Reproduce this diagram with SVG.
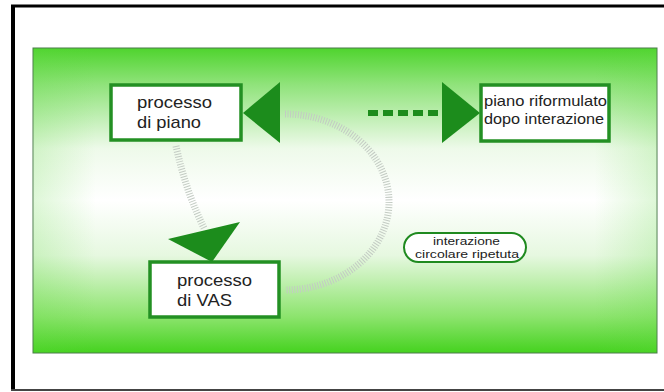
<svg xmlns="http://www.w3.org/2000/svg" width="664" height="392" viewBox="0 0 664 392">
<defs>
<linearGradient id="gv" x1="0" y1="0" x2="0" y2="1">
<stop offset="0" stop-color="#4fd42e"/>
<stop offset="0.12" stop-color="#90e37b"/>
<stop offset="0.33" stop-color="#eefaea"/>
<stop offset="0.5" stop-color="#ffffff"/>
<stop offset="0.68" stop-color="#e6f8e0"/>
<stop offset="0.88" stop-color="#8de46e"/>
<stop offset="1" stop-color="#45d21f"/>
</linearGradient>
<linearGradient id="gh" x1="0" y1="0" x2="1" y2="0">
<stop offset="0" stop-color="#5ad83a" stop-opacity="0.2"/>
<stop offset="0.1" stop-color="#5ad83a" stop-opacity="0"/>
<stop offset="0.9" stop-color="#5ad83a" stop-opacity="0"/>
<stop offset="1" stop-color="#5ad83a" stop-opacity="0.2"/>
</linearGradient>
<style>
.box{fill:#ffffff;stroke:#239023;stroke-width:3.5}
.oval{fill:#ffffff;stroke:#1f8a1f;stroke-width:2}
.arrow{fill:#1c8c1c}
.t{font-family:"Liberation Sans",Arial,sans-serif;fill:#222222}
.big{font-size:17px}
.mid{font-size:15px}
.small{font-size:11px}
.hatch{fill:none;stroke:#c3cbc3;stroke-width:7;stroke-dasharray:1 1.6}
.dash{fill:none;stroke:#1c8c1c;stroke-width:6;stroke-dasharray:10 5}
</style>
</defs>
<rect width="664" height="392" fill="#ffffff"/>
<g id="frame">
<line x1="13" y1="5" x2="13" y2="391" stroke="#000" stroke-width="4"/>
<line x1="11" y1="6" x2="664" y2="6" stroke="#000" stroke-width="3"/>
<line x1="11" y1="390" x2="664" y2="390" stroke="#444" stroke-width="2"/>
</g>
<g id="panel">
<rect x="33" y="48" width="624" height="305" fill="url(#gv)" stroke="#4a7a4a" stroke-width="1"/>
<rect x="33.5" y="48.5" width="623" height="304" fill="url(#gh)"/>
</g>
<g id="connectors">
<path class="hatch" d="M285,114 A104 88 0 0 1 285,290"/>
<path class="hatch" d="M176,146 Q186,192 204,228"/>
<line class="dash" x1="368" y1="113" x2="444" y2="113"/>
<polygon class="arrow" points="243,113 280,82 280,143"/>
<polygon class="arrow" points="480,113 442,82 442,143"/>
<polygon class="arrow" points="168,239 240,222 212,262"/>
</g>
<g id="node-piano">
<rect class="box" x="111" y="85" width="130" height="55"/>
<text class="t big" x="137" y="108" textLength="75" lengthAdjust="spacingAndGlyphs">processo</text>
<text class="t big" x="137" y="128" textLength="64" lengthAdjust="spacingAndGlyphs">di piano</text>
</g>
<g id="node-riformulato">
<rect class="box" x="481" y="85" width="128" height="56"/>
<text class="t mid" x="484" y="106" textLength="123" lengthAdjust="spacingAndGlyphs">piano riformulato</text>
<text class="t mid" x="484" y="124" textLength="120" lengthAdjust="spacingAndGlyphs">dopo interazione</text>
</g>
<g id="node-vas">
<rect class="box" x="150" y="262" width="129" height="55"/>
<text class="t big" x="177" y="286" textLength="75" lengthAdjust="spacingAndGlyphs">processo</text>
<text class="t big" x="177" y="306" textLength="55" lengthAdjust="spacingAndGlyphs">di VAS</text>
</g>
<g id="node-interazione">
<rect class="oval" x="404" y="233" width="122" height="29" rx="14.5"/>
<text class="t small" x="433" y="245" textLength="67" lengthAdjust="spacingAndGlyphs">interazione</text>
<text class="t small" x="415" y="258" textLength="104" lengthAdjust="spacingAndGlyphs">circolare ripetuta</text>
</g>
</svg>
